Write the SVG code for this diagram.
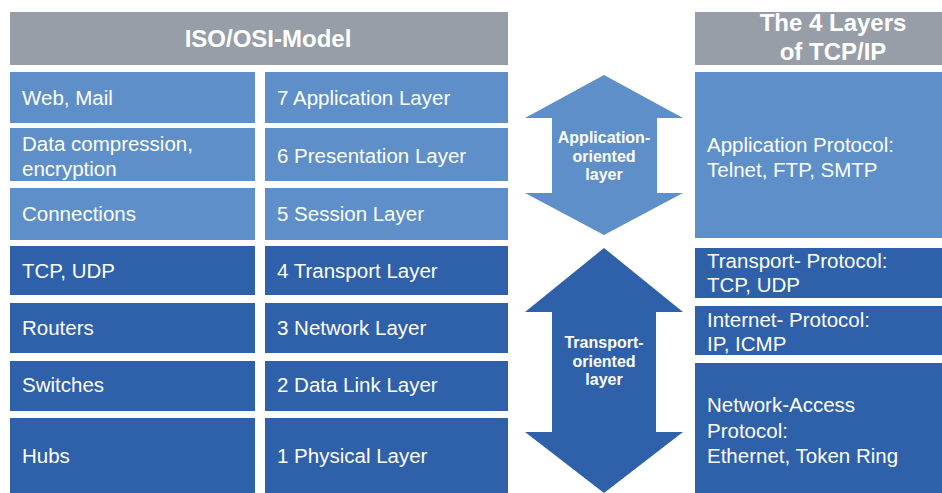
<svg xmlns="http://www.w3.org/2000/svg" width="942" height="493" viewBox="0 0 942 493">
<style>
.hdr{fill:#979ea8}
.lt{fill:#5e8fc8}
.dk{fill:#2f60aa}
.ht{font-family:"Liberation Sans",Arial,sans-serif;font-weight:bold;font-size:24px;fill:#ffffff;text-anchor:middle}
.ct{font-family:"Liberation Sans",Arial,sans-serif;font-size:20.5px;fill:#ffffff}
.at{font-family:"Liberation Sans",Arial,sans-serif;font-weight:bold;font-size:16px;fill:#ffffff;text-anchor:middle}
</style>
<rect width="942" height="493" fill="#ffffff"/>
<g id="osi-header"><rect class="hdr" x="10" y="12" width="498" height="53"/><text class="ht" x="268" y="47">ISO/OSI-Model</text></g>
<g id="tcpip-header"><rect class="hdr" x="695" y="12" width="247" height="53"/><text class="ht" x="833" y="31">The 4 Layers</text><text class="ht" x="833" y="60">of TCP/IP</text></g>

<g id="l7-ex"><rect class="lt" x="10" y="72" width="245" height="51"/><text class="ct" x="22" y="105">Web, Mail</text></g>
<g id="l7"><rect class="lt" x="265" y="72" width="243" height="51"/><text class="ct" x="277" y="105">7 Application Layer</text></g>
<g id="l6-ex"><rect class="lt" x="10" y="128" width="245" height="53"/><text class="ct" x="22" y="151">Data compression,</text><text class="ct" x="22" y="176">encryption</text></g>
<g id="l6"><rect class="lt" x="265" y="128" width="243" height="53"/><text class="ct" x="277" y="163">6 Presentation Layer</text></g>
<g id="l5-ex"><rect class="lt" x="10" y="188" width="245" height="52"/><text class="ct" x="22" y="221">Connections</text></g>
<g id="l5"><rect class="lt" x="265" y="188" width="243" height="52"/><text class="ct" x="277" y="221">5 Session Layer</text></g>
<g id="l4-ex"><rect class="dk" x="10" y="246" width="245" height="49"/><text class="ct" x="22" y="278">TCP, UDP</text></g>
<g id="l4"><rect class="dk" x="265" y="246" width="243" height="49"/><text class="ct" x="277" y="278">4 Transport Layer</text></g>
<g id="l3-ex"><rect class="dk" x="10" y="303" width="245" height="50"/><text class="ct" x="22" y="335">Routers</text></g>
<g id="l3"><rect class="dk" x="265" y="303" width="243" height="50"/><text class="ct" x="277" y="335">3 Network Layer</text></g>
<g id="l2-ex"><rect class="dk" x="10" y="361" width="245" height="50"/><text class="ct" x="22" y="392">Switches</text></g>
<g id="l2"><rect class="dk" x="265" y="361" width="243" height="50"/><text class="ct" x="277" y="392">2 Data Link Layer</text></g>
<g id="l1-ex"><rect class="dk" x="10" y="418" width="245" height="75"/><text class="ct" x="22" y="463">Hubs</text></g>
<g id="l1"><rect class="dk" x="265" y="418" width="243" height="75"/><text class="ct" x="277" y="463">1 Physical Layer</text></g>

<g id="app-arrow"><polygon class="lt" points="604,75 683,118 657,118 657,193 683,193 604,235 525,193 552,193 552,118 525,118"/><text class="at" x="604" y="143">Application-</text><text class="at" x="604" y="162">oriented</text><text class="at" x="604" y="180">layer</text></g>
<g id="transport-arrow"><polygon class="dk" points="604,248 683,312 656,312 656,432 683,432 604,493 525,432 552,432 552,312 525,312"/><text class="at" x="604" y="348">Transport-</text><text class="at" x="604" y="367">oriented</text><text class="at" x="604" y="385">layer</text></g>

<g id="tcp-app"><rect class="lt" x="695" y="72" width="247" height="166"/><text class="ct" x="707" y="152">Application Protocol:</text><text class="ct" x="707" y="177">Telnet, FTP, SMTP</text></g>
<g id="tcp-transport"><rect class="dk" x="695" y="248" width="247" height="50"/><text class="ct" x="707" y="268">Transport- Protocol:</text><text class="ct" x="707" y="292">TCP, UDP</text></g>
<g id="tcp-internet"><rect class="dk" x="695" y="306" width="247" height="49"/><text class="ct" x="707" y="327">Internet- Protocol:</text><text class="ct" x="707" y="351">IP, ICMP</text></g>
<g id="tcp-netaccess"><rect class="dk" x="695" y="363" width="247" height="130"/><text class="ct" x="707" y="412">Network-Access</text><text class="ct" x="707" y="438">Protocol:</text><text class="ct" x="707" y="463">Ethernet, Token Ring</text></g>
<g id="connectors"/>
</svg>
